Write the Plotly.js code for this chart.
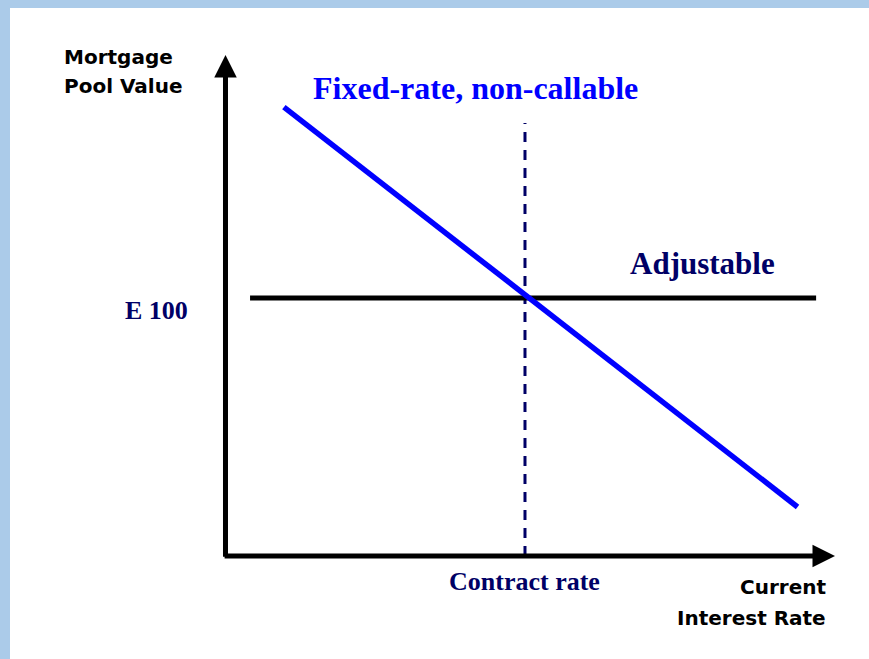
<!DOCTYPE html>
<html>
<head>
<meta charset="utf-8">
<script src="https://cdn.plot.ly/plotly-3.0.1.min.js"></script>
<style>html,body{margin:0;padding:0;background:#fff;}#chart{width:869px;height:659px;}</style>
</head>
<body>
<div id="chart"></div>
<script>
// Conceptual chart: value of mortgage pool vs current interest rate
const contractRate = 10;            // x position of contract rate
const parValue = 100;               // "E 100"
const fixedRateX = [1.95, 19.1];    // fixed-rate, non-callable line
const fixedRateY = [174, 19];
const adjustableX = [0.82, 19.72];  // adjustable line
const adjustableY = [100, 100];
const contractLineY = [0, 167.8];
const xAxisEnd = 20.35;
const yAxisEnd = 194.2;

const labels = {
  fixed: 'Fixed-rate, non-callable',
  adjustable: 'Adjustable',
  par: 'E 100',
  contract: 'Contract rate',
  yTitle1: 'Mortgage',
  yTitle2: 'Pool Value',
  xTitle1: 'Current',
  xTitle2: 'Interest Rate'
};

const navy = '#000066';
const serif = 'Liberation Serif, Times New Roman, serif';
const sans = 'DejaVu Sans, sans-serif';

const traces = [
  {x: [contractRate, contractRate], y: contractLineY, mode: 'lines',
   line: {color: navy, width: 3, dash: '10px,8px'}, hoverinfo: 'skip'},
  {x: adjustableX, y: adjustableY, mode: 'lines',
   line: {color: '#000000', width: 5}, hoverinfo: 'skip'},
  {x: fixedRateX, y: fixedRateY, mode: 'lines',
   line: {color: '#0000ff', width: 5.5}, hoverinfo: 'skip'}
];

const annotations = [
  // axes with arrows
  {x: xAxisEnd, y: 0, ax: -0.08, ay: 0, xref: 'x', yref: 'y', axref: 'x', ayref: 'y',
   text: '', showarrow: true, arrowhead: 2, arrowwidth: 5, arrowsize: 0.9, arrowcolor: '#000'},
  {x: 0, y: yAxisEnd, ax: 0, ay: -0.9, xref: 'x', yref: 'y', axref: 'x', ayref: 'y',
   text: '', showarrow: true, arrowhead: 2, arrowwidth: 5, arrowsize: 0.9, arrowcolor: '#000'},
  // labels
  {x: 476/869, y: 1 - 88/659, xref: 'paper', yref: 'paper', xanchor: 'center', yanchor: 'middle',
   text: '<b>' + labels.fixed + '</b>', showarrow: false, font: {family: serif, size: 32, color: '#0000ff'}},
  {x: 702/869, y: 1 - 263/659, xref: 'paper', yref: 'paper', xanchor: 'center', yanchor: 'middle',
   text: '<b>' + labels.adjustable + '</b>', showarrow: false, font: {family: serif, size: 31, color: navy}},
  {x: 156/869, y: parValue, xref: 'paper', yref: 'y', xanchor: 'center', yanchor: 'middle', yshift: -12,
   text: '<b>' + labels.par + '</b>', showarrow: false, font: {family: serif, size: 26, color: navy}},
  {x: contractRate, y: 1 - 581/659, xref: 'x', yref: 'paper', xanchor: 'center', yanchor: 'middle',
   text: '<b>' + labels.contract + '</b>', showarrow: false, font: {family: serif, size: 26, color: navy}},
  {x: 62/869, y: 1 - 57/659, xref: 'paper', yref: 'paper', xanchor: 'left', yanchor: 'middle',
   text: '<b>' + labels.yTitle1 + '</b>', showarrow: false, font: {family: sans, size: 20, color: '#000'}},
  {x: 62/869, y: 1 - 86/659, xref: 'paper', yref: 'paper', xanchor: 'left', yanchor: 'middle',
   text: '<b>' + labels.yTitle2 + '</b>', showarrow: false, font: {family: sans, size: 20, color: '#000'}},
  {x: 828/869, y: 1 - 587/659, xref: 'paper', yref: 'paper', xanchor: 'right', yanchor: 'middle',
   text: '<b>' + labels.xTitle1 + '</b>', showarrow: false, font: {family: sans, size: 20, color: '#000'}},
  {x: 828/869, y: 1 - 618/659, xref: 'paper', yref: 'paper', xanchor: 'right', yanchor: 'middle',
   text: '<b>' + labels.xTitle2 + '</b>', showarrow: false, font: {family: sans, size: 20, color: '#000'}}
];

const borderColor = '#abcbe9';
const shapes = [
  {type: 'rect', xref: 'paper', yref: 'paper', x0: 0, x1: 1, y0: 1 - 8/659, y1: 1,
   fillcolor: borderColor, line: {width: 0}, layer: 'below'},
  {type: 'rect', xref: 'paper', yref: 'paper', x0: 0, x1: 10/869, y0: 0, y1: 1,
   fillcolor: borderColor, line: {width: 0}, layer: 'below'}
];

const layout = {
  width: 869, height: 659,
  margin: {l: 0, r: 0, t: 0, b: 0, pad: 0},
  paper_bgcolor: '#ffffff', plot_bgcolor: '#ffffff',
  showlegend: false,
  xaxis: {range: [-7.529, 21.486], visible: false, showgrid: false, zeroline: false, fixedrange: true},
  yaxis: {range: [-39.92, 215.5], visible: false, showgrid: false, zeroline: false, fixedrange: true},
  annotations: annotations,
  shapes: shapes
};

Plotly.newPlot('chart', traces, layout, {displayModeBar: false, staticPlot: true});
</script>
</body>
</html>
